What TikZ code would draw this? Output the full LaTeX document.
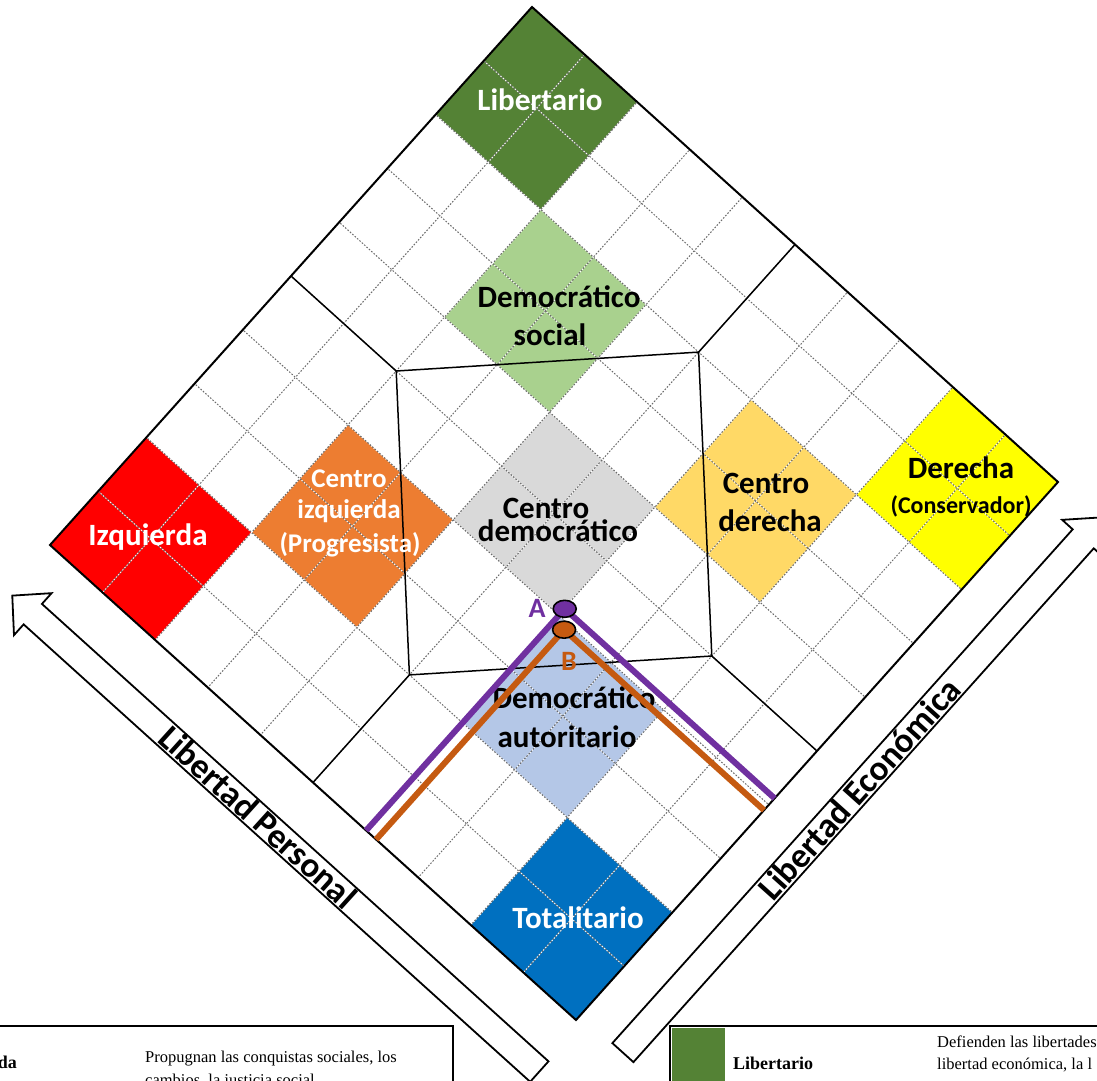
\documentclass[tikz,border=0pt]{standalone}
\usepackage{fontspec}
\setmainfont{Liberation Serif}
\newfontfamily\calfont{Carlito}
\usetikzlibrary{shapes.geometric}
\definecolor{cLib}{HTML}{548235}
\definecolor{cSoc}{HTML}{A9D18E}
\definecolor{cCen}{HTML}{D9D9D9}
\definecolor{cAut}{HTML}{B4C7E7}
\definecolor{cTot}{HTML}{0070C0}
\definecolor{cIzq}{HTML}{FF0000}
\definecolor{cCIz}{HTML}{ED7D31}
\definecolor{cCDe}{HTML}{FFD966}
\definecolor{cDer}{HTML}{FFFF00}
\definecolor{cPur}{HTML}{7030A0}
\definecolor{cOra}{HTML}{C55A11}
\newcommand\sqr[3]{\fill[#3] (#1,#2) -- ++(2,0) -- ++(0,2) -- ++(-2,0) -- cycle;}
\tikzset{
  lbl/.style={inner sep=0pt, anchor=base, font=\calfont\bfseries\fontsize{31}{37}\selectfont},
  wl/.style={lbl, text=white},
  bl/.style={lbl, text=black},
  small/.style={font=\calfont\bfseries\fontsize{27}{32}\selectfont},
  gw/.style={white, line width=1pt, dash pattern=on 1.6pt off 1.6pt},
  gd/.style={black!58, line width=1pt, dash pattern=on 1.6pt off 1.6pt, dash phase=1.6pt},
  frame/.style={black, line width=2pt, line join=miter},
  inner/.style={black, line width=1.5pt, line join=round},
  arrowbox/.style={draw=black, fill=white, line width=1.8pt, line join=miter},
  axlbl/.style={inner sep=0pt, text=black, font=\calfont\bfseries\fontsize{35}{40}\selectfont},
  pathline/.style={line width=6pt},
  dot/.style={ellipse, draw=black, line width=1.6pt, minimum width=23pt, minimum height=17pt, inner sep=0pt},
  tb/.style={inner sep=0pt, anchor=base west, font=\fontsize{16.5}{22}\selectfont},
  tbb/.style={inner sep=0pt, font=\bfseries\fontsize{18}{22}\selectfont},
  box/.style={black, line width=2.5pt},
}
\begin{document}
\begin{tikzpicture}[x=1pt,y=-1pt]
\useasboundingbox (0,0) rectangle (1097,1080);
\clip (0,0) rectangle (1097,1080);
\begin{scope}[shift={(532,7)},x={(52.6pt,-47.5pt)},y={(-48.2pt,-53.8pt)}]
  % coloured squares
  \sqr{0}{0}{cLib}
  \sqr{2}{2}{cSoc}
  \sqr{4}{4}{cCen}
  \sqr{6}{6}{cAut}
  \sqr{8}{8}{cTot}
  \sqr{0}{8}{cIzq}
  \sqr{2}{6}{cCIz}
  \sqr{6}{2}{cCDe}
  \sqr{8}{0}{cDer}
  % dotted grid
  \foreach \i in {1,...,9}{
    \draw[gw] (\i,0) -- (\i,10);
    \draw[gw] (0,\i) -- (10,\i);
    \draw[gd] (\i,0) -- (\i,10);
    \draw[gd] (0,\i) -- (10,\i);
  }
  % outer frame and inner region
  \draw[frame] (0,0) -- (10,0) -- (10,10) -- (0,10) -- cycle;
  \draw[inner] (2,5) -- (5,2) -- (8,5) -- (5,8) -- cycle;
  \draw[inner] (0,5) -- (2,5);
  \draw[inner] (5,0) -- (5,2);
  \draw[inner] (8,5) -- (10,5);
  \draw[inner] (5,8) -- (5,10);
  % axis arrows
  \draw[arrowbox] (10.1,10.68) -- (0.47,10.68) -- (0.47,10.48) -- (0.08,10.87)
        -- (0.47,11.26) -- (0.47,11.06) -- (10.1,11.06) -- cycle;
  \draw[arrowbox] (10.6,9.9) -- (10.6,0.35) -- (10.4,0.35) -- (10.8,-0.05)
        -- (11.2,0.35) -- (11.0,0.35) -- (11.0,9.9) -- cycle;
  \node[axlbl, rotate=-42.1] (lp) at (4.75,10.86) {Libertad Personal};
  \node[axlbl, rotate=48.1] (le) at (10.8,5.0) {Libertad Económica};
  % coordinates for A and B
  \coordinate (Ac) at (6.01,5.88);
  \coordinate (AL) at (6.01,10);
  \coordinate (AR) at (10,5.88);
  \coordinate (Bc) at (6.2,6.1);
  \coordinate (BL) at (6.2,10);
  \coordinate (BR) at (10,6.1);
\end{scope}
% labels
\node[wl] (lLib) at (540,110) {Libertario};
\node[bl] (lSoc1) at (559,307) {Democrático};
\node[bl] (lSoc2) at (550,345) {social};
\node[bl] (lCen1) at (546,518) {Centro};
\node[bl] (lCen2) at (558,541) {democrático};
\node[bl] (lAut1) at (574,708) {Democrático};
\node[bl] (lAut2) at (567,747) {autoritario};
\node[wl] (lTot) at (578,928) {Totalitario};
\node[wl] (lIzq) at (148,545) {Izquierda};
\node[wl, small] (lCIz1) at (349,487) {Centro};
\node[wl, small] (lCIz2) at (349,518) {izquierda};
\node[wl, small] (lCIz3) at (350,552) {(Progresista)};
\node[bl] (lCDe1) at (766,493) {Centro};
\node[bl] (lCDe2) at (770,531) {derecha};
\node[bl] (lDer1) at (961,478) {Derecha};
\node[bl, font=\calfont\bfseries\fontsize{24}{28}\selectfont] (lDer2) at (961,513) {(Conservador)};
% A and B paths
\draw[cOra, pathline] (BL) -- (Bc) -- (BR);
\draw[cPur, pathline] (AL) -- (Ac) -- (AR);
\node[dot, fill=cOra] (B) at (Bc) {};
\node[dot, fill=cPur] (A) at (Ac) {};
\node[lbl, text=cPur, font=\calfont\bfseries\fontsize{28}{32}\selectfont] (Alab) at (537,617) {A};
\node[lbl, text=cOra, font=\calfont\bfseries\fontsize{28}{32}\selectfont] (Blab) at (569,670) {B};
% tables
\draw[box] (-20,1026) rectangle (453,1110);
\node[tbb, anchor=base east] (tIzq) at (17,1068) {Izquierda};
\node[tb] (tIzq1) at (145,1062) {Propugnan las conquistas sociales, los};
\node[tb] (tIzq2) at (145,1085) {cambios, la justicia social};
\fill[cLib] (671.5,1027.5) rectangle (725,1085);
\draw[box] (670,1026) rectangle (1150,1110);
\node[tbb, anchor=base west] (tLib) at (733,1069) {Libertario};
\node[tb] (tLib1) at (937,1047) {Defienden las libertades};
\node[tb] (tLib2) at (937,1069) {libertad económica, la l};
\end{tikzpicture}
\end{document}
